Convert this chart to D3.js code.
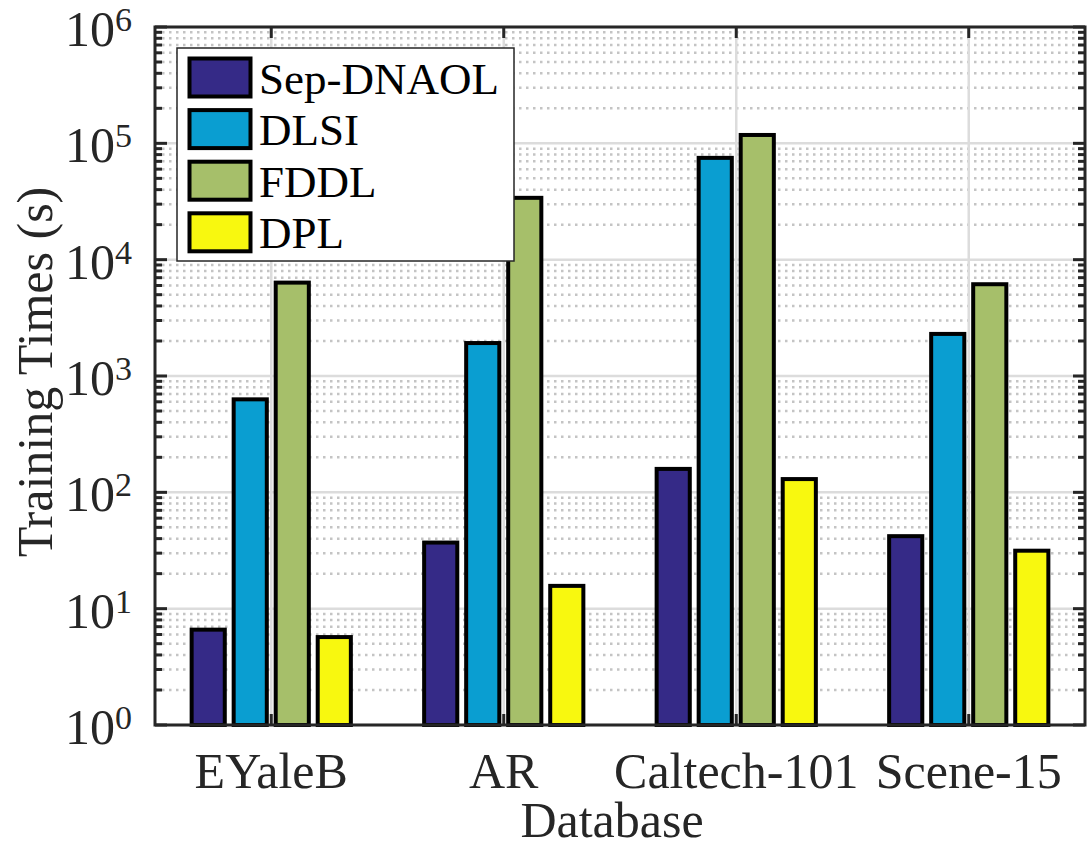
<!DOCTYPE html>
<html>
<head>
<meta charset="utf-8">
<script src="https://cdn.jsdelivr.net/npm/d3@7"></script>
<style>
  html, body { margin: 0; padding: 0; background: #fff; }
  svg { display: block; }
  text { font-family: "Liberation Serif", "Times New Roman", serif; }
</style>
</head>
<body>
<div id="chart"></div>
<script>
// chart data
const databases = ['EYaleB', 'AR', 'Caltech-101', 'Scene-15'];
const methods = ['Sep-DNAOL', 'DLSI', 'FDDL', 'DPL'];
const sepDnaol = [6.6, 37, 159, 42];
const dlsi = [630, 1920, 75000, 2300];
const fddl = [6350, 34000, 118000, 6150];
const dpl = [5.7, 15.7, 130, 31.5];
const colors = ['#352a87', '#0a9ed1', '#a6bf6a', '#f8f80f'];
const yTickExp = [0, 1, 2, 3, 4, 5, 6];

const seriesValues = [sepDnaol, dlsi, fddl, dpl];

const width = 1091, height = 849;
const box = { left: 155, top: 27, right: 1085, bottom: 725 };

const svg = d3.select('#chart')
  .append('svg')
  .attr('width', width)
  .attr('height', height);

const x0 = d3.scaleBand()
  .domain(databases)
  .range([box.left, box.right]);

const groupW = x0.bandwidth() * 0.723;
const x1 = d3.scaleBand()
  .domain(methods)
  .range([(x0.bandwidth() - groupW) / 2, (x0.bandwidth() + groupW) / 2])
  .paddingInner(0.14)
  .paddingOuter(0.07);

const y = d3.scaleLog()
  .domain([1, 1e6])
  .range([box.bottom, box.top]);

const majorVals = yTickExp.map(e => Math.pow(10, e));
const minorVals = [];
yTickExp.slice(0, -1).forEach(e => {
  for (let m = 2; m <= 9; m++) minorVals.push(m * Math.pow(10, e));
});

// grid
const grid = svg.append('g');
grid.selectAll('.minor')
  .data(minorVals)
  .enter()
  .append('line')
  .attr('x1', box.left).attr('x2', box.right)
  .attr('y1', d => y(d)).attr('y2', d => y(d))
  .attr('stroke', '#c4c4c4')
  .attr('stroke-width', 2.5)
  .attr('stroke-dasharray', '2.5,4.5');
grid.selectAll('.major')
  .data(majorVals)
  .enter()
  .append('line')
  .attr('x1', box.left).attr('x2', box.right)
  .attr('y1', d => y(d)).attr('y2', d => y(d))
  .attr('stroke', '#dcdcdc')
  .attr('stroke-width', 2.5);
grid.selectAll('.vmajor')
  .data(databases)
  .enter()
  .append('line')
  .attr('x1', d => x0(d) + x0.bandwidth() / 2)
  .attr('x2', d => x0(d) + x0.bandwidth() / 2)
  .attr('y1', box.top).attr('y2', box.bottom)
  .attr('stroke', '#dcdcdc')
  .attr('stroke-width', 2.5);

// ticks (inside)
const ticks = svg.append('g').attr('stroke', '#262626').attr('stroke-width', 3);
[[box.left, 1], [box.right, -1]].forEach(([xe, dir]) => {
  ticks.selectAll(null)
    .data(majorVals)
    .enter()
    .append('line')
    .attr('x1', xe).attr('x2', xe + dir * 12)
    .attr('y1', d => y(d)).attr('y2', d => y(d));
  ticks.selectAll(null)
    .data(minorVals)
    .enter()
    .append('line')
    .attr('x1', xe).attr('x2', xe + dir * 7)
    .attr('y1', d => y(d)).attr('y2', d => y(d));
});
[[box.top, 1], [box.bottom, -1]].forEach(([ye, dir]) => {
  ticks.selectAll(null)
    .data(databases)
    .enter()
    .append('line')
    .attr('x1', d => x0(d) + x0.bandwidth() / 2)
    .attr('x2', d => x0(d) + x0.bandwidth() / 2)
    .attr('y1', ye).attr('y2', ye + dir * 11);
});

// bars
const groups = svg.append('g')
  .selectAll('g')
  .data(databases)
  .enter()
  .append('g')
  .attr('transform', d => `translate(${x0(d)},0)`);

groups.selectAll('rect')
  .data((d, i) => methods.map((m, j) => ({ m, v: seriesValues[j][i], c: colors[j] })))
  .enter()
  .append('rect')
  .attr('x', d => x1(d.m) + 1.5)
  .attr('width', x1.bandwidth() - 3)
  .attr('y', d => y(d.v))
  .attr('height', d => box.bottom - y(d.v))
  .attr('fill', d => d.c)
  .attr('stroke', '#000')
  .attr('stroke-width', 4);

// axes box
svg.append('rect')
  .attr('x', box.left).attr('y', box.top)
  .attr('width', box.right - box.left)
  .attr('height', box.bottom - box.top)
  .attr('fill', 'none')
  .attr('stroke', '#262626')
  .attr('stroke-width', 3);

// y tick labels
const yl = svg.append('g')
  .selectAll('text')
  .data(yTickExp)
  .enter()
  .append('text')
  .attr('x', 65)
  .attr('y', d => y(Math.pow(10, d)) + 19)
  .attr('fill', '#262626')
  .style('font-size', '50px');
yl.append('tspan').text('10');
yl.append('tspan')
  .attr('dy', -15)
  .style('font-size', '34px')
  .text(d => d);

// x tick labels
svg.append('g')
  .selectAll('text')
  .data(databases)
  .enter()
  .append('text')
  .attr('x', d => x0(d) + x0.bandwidth() / 2)
  .attr('y', 788)
  .attr('text-anchor', 'middle')
  .attr('fill', '#262626')
  .style('font-size', '50px')
  .text(d => d);

// axis titles
svg.append('text')
  .attr('x', 612)
  .attr('y', 837)
  .attr('text-anchor', 'middle')
  .attr('fill', '#262626')
  .style('font-size', '50px')
  .text('Database');

svg.append('text')
  .attr('transform', 'translate(52,372) rotate(-90)')
  .attr('text-anchor', 'middle')
  .attr('fill', '#262626')
  .style('font-size', '50px')
  .text('Training Times (s)');

// legend
const legend = svg.append('g');
legend.append('rect')
  .attr('x', 177).attr('y', 48)
  .attr('width', 337).attr('height', 213)
  .attr('fill', '#fff')
  .attr('stroke', '#262626')
  .attr('stroke-width', 1.5);

const items = legend.selectAll('.item')
  .data(methods)
  .enter()
  .append('g')
  .attr('transform', (d, i) => `translate(0,${77.5 + i * 51.6})`);
items.append('rect')
  .attr('x', 189.5).attr('y', -19)
  .attr('width', 61).attr('height', 38)
  .attr('fill', (d, i) => colors[i])
  .attr('stroke', '#000')
  .attr('stroke-width', 4);
items.append('text')
  .attr('x', 259)
  .attr('y', 16)
  .attr('fill', '#000')
  .style('font-size', '45px')
  .text(d => d);
</script>
</body>
</html>
